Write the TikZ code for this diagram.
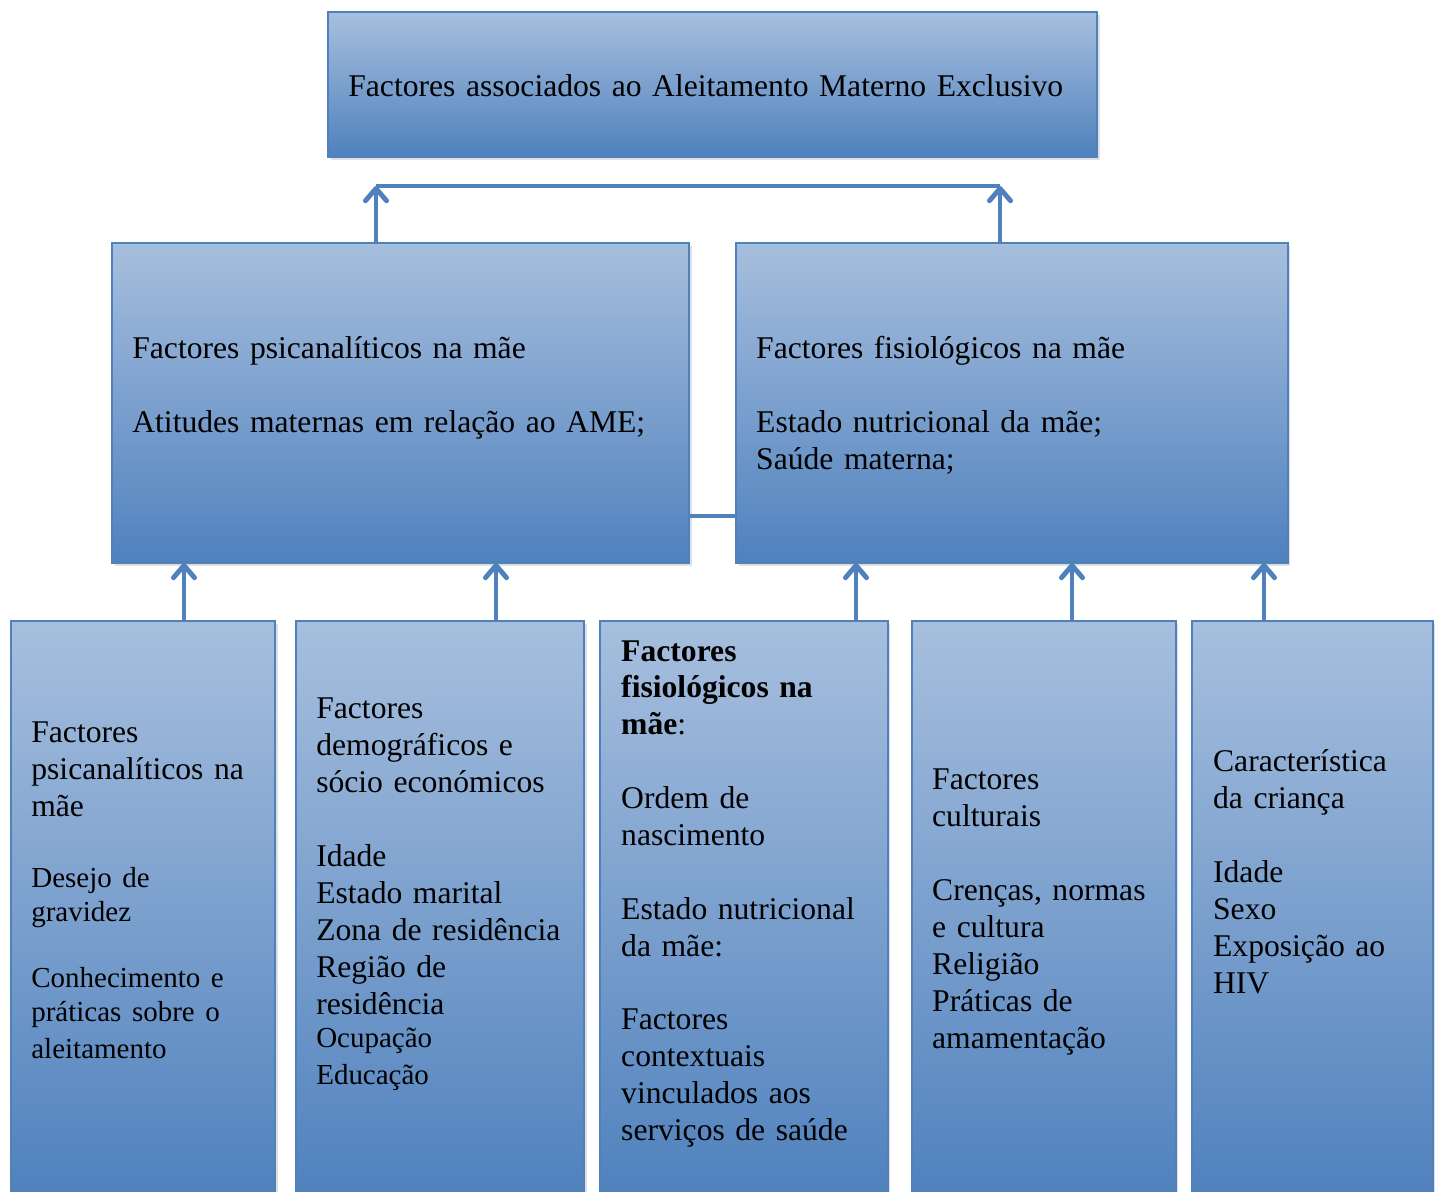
\documentclass[tikz,border=0pt]{standalone}
\usepackage{fontspec}
\setmainfont{Liberation Serif}
\usepackage{xcolor}
\usetikzlibrary{arrows.meta,positioning,shadows}
\definecolor{boxtop}{RGB}{167,191,222}
\definecolor{boxbot}{RGB}{79,129,189}

\begin{document}
\begin{tikzpicture}[x=0.02cm, y=-0.02cm,
    block/.style={rectangle, draw=boxbot, line width=1pt, top color=boxtop, bottom color=boxbot, inner sep=0pt, outer sep=0pt, drop shadow={opacity=0.25, shadow xshift=1.5pt, shadow yshift=-1.5pt}},
    txt/.style={inner sep=0pt, text width=20cm, align=left, anchor=base west, font=\fontsize{18}{21}\selectfont},
    arrow/.style={draw=boxbot, line width=2.8pt, -{Straight Barb[length=7pt, width=12pt, round]}},
    link/.style={draw=boxbot, line width=2.8pt}]

    \useasboundingbox (0,0) rectangle (1439,1191);

    % top box
    \node[block, anchor=north west, minimum width=15.38cm, minimum height=2.9cm] (top) at (328,12) {};
    \node[txt] (ttop) at ([xshift=0.4cm, yshift=-1.7cm]top.north west) {Factores associados ao Aleitamento Materno Exclusivo};

    % middle row
    \node[block, anchor=north west, minimum width=11.54cm, minimum height=6.4cm] (ml) at (112,243) {};
    \node[block, right=0.94cm of ml, minimum width=11.04cm, minimum height=6.4cm] (mr) {};
    \node[txt] (tml) at ([xshift=0.4cm, yshift=-2.32cm]ml.north west) {Factores psicanalíticos na mãe\\[21pt]Atitudes maternas em relação ao AME;};
    \node[txt] (tmr) at ([xshift=0.4cm, yshift=-2.32cm]mr.north west) {Factores fisiológicos na mãe\\[21pt]Estado nutricional da mãe;\\Saúde materna;};

    % bottom row
    \node[block, anchor=north west, minimum width=5.28cm, minimum height=11.58cm] (b1) at (11,621) {};
    \node[block, right=0.42cm of b1, minimum width=5.76cm, minimum height=11.58cm] (b2) {};
    \node[block, right=0.32cm of b2, minimum width=5.76cm, minimum height=11.58cm] (b3) {};
    \node[block, right=0.48cm of b3, minimum width=5.28cm, minimum height=11.58cm] (b4) {};
    \node[block, right=0.32cm of b4, minimum width=4.82cm, minimum height=11.58cm] (b5) {};

    \node[txt] (tb1) at ([xshift=0.4cm, yshift=-2.44cm]b1.north west) {Factores\\psicanalíticos na\\mãe\par\vspace{20.8pt}\fontsize{16.5}{19.5}\selectfont Desejo de\\gravidez\\[18pt]Conhecimento e\\práticas sobre o\\aleitamento};
    \node[txt] (tb2) at ([xshift=0.4cm, yshift=-1.96cm]b2.north west) {Factores\\demográficos e\\sócio económicos\\[21pt]Idade\\Estado marital\\Zona de residência\\Região de\\residência\par\fontsize{16.5}{19}\selectfont Ocupação\\Educação};
    \node[txt] (tb3) at ([xshift=0.42cm, yshift=-0.8cm]b3.north west) {\textbf{Factores}\\\textbf{fisiológicos na}\\\textbf{mãe}:\\[21pt]Ordem de\\nascimento\\[21pt]Estado nutricional\\da mãe:\\[21pt]Factores\\contextuais\\vinculados aos\\serviços de saúde};
    \node[txt] (tb4) at ([xshift=0.4cm, yshift=-3.38cm]b4.north west) {Factores\\culturais\\[21pt]Crenças, normas\\e cultura\\Religião\\Práticas de\\amamentação};
    \node[txt] (tb5) at ([xshift=0.42cm, yshift=-3.02cm]b5.north west) {Característica\\da criança\\[21pt]Idade\\Sexo\\Exposição ao\\HIV};

    % connectors
    \coordinate (jl) at (376,186);
    \coordinate (jr) at (1000,186);
    \draw[link] (jl) -- (jr);
    \draw[arrow] (ml.north -| jl) -- (jl);
    \draw[arrow] (mr.north -| jr) -- (jr);
    \draw[link] (ml.east |- 0,516) -- (mr.west |- 0,516);

    \draw[arrow] (b1.north -| 184,0) -- (ml.south -| 184,0);
    \draw[arrow] (b2.north -| 496,0) -- (ml.south -| 496,0);
    \draw[arrow] (b3.north -| 856,0) -- (mr.south -| 856,0);
    \draw[arrow] (b4.north -| 1072,0) -- (mr.south -| 1072,0);
    \draw[arrow] (b5.north -| 1264,0) -- (mr.south -| 1264,0);
\end{tikzpicture}
\end{document}
